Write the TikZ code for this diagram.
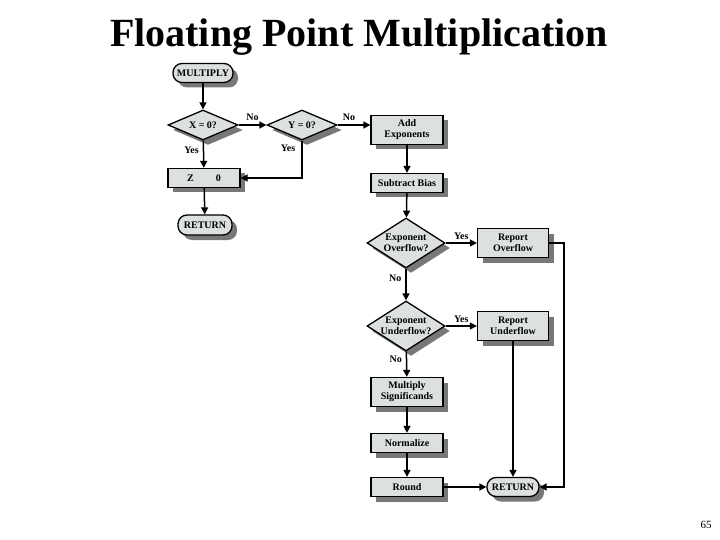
\documentclass[tikz,border=0pt]{standalone}
\usepackage{fontspec}
\setmainfont{Liberation Serif}
\usetikzlibrary{shapes.geometric,arrows.meta,shadows}
\definecolor{boxfill}{RGB}{220,224,224}
\definecolor{shade}{RGB}{120,120,120}
\begin{document}
\begin{tikzpicture}[x=1pt,y=-1pt,
  base/.style={draw,line width=1.3pt,fill=boxfill,
    font=\bfseries\fontsize{10}{11}\selectfont,align=center,inner sep=1pt,
    drop shadow={shadow xshift=5pt,shadow yshift=-5pt,fill=shade,opacity=1}},
  procbox/.style={base,rectangle,minimum width=72pt},
  termbox/.style={base,rectangle,rounded corners=9pt},
  decbox/.style={base,diamond},
  dtext/.style={font=\bfseries\fontsize{10}{11}\selectfont,align=center,inner sep=0pt},
  flow/.style={line width=1.5pt,-{Triangle[length=7pt,width=7pt]}},
  lbl/.style={font=\bfseries\fontsize{10}{11}\selectfont,inner sep=0pt}]
\useasboundingbox (0,0) rectangle (720,540);

\node[anchor=base,font=\bfseries\fontsize{40}{44}\selectfont] (title) at (359,47) {Floating Point Multiplication};
\node[font=\fontsize{11}{12}\selectfont] (pnum) at (706,525) {65};

% left column
\node[termbox,minimum width=60pt,minimum height=19pt] (mult) at (203,73) {MULTIPLY};
\node[decbox,minimum width=70pt,minimum height=30pt,
  label={[dtext]center:X = 0?}] (xz) at (203,125) {};
\node[decbox,minimum width=70pt,minimum height=30pt,
  label={[dtext]center:Y = 0?}] (yz) at (302,125) {};
\node[procbox,minimum height=19pt] (zero) at (204,178) {Z\hspace{2.2em}0};
\node[termbox,minimum width=54pt,minimum height=20pt] (ret1) at (205,225) {RETURN};

% main column
\node[procbox,minimum height=29pt] (add) at (407,130) {Add\\Exponents};
\node[procbox,minimum height=19pt] (sub) at (407,183) {Subtract Bias};
\node[decbox,minimum width=78pt,minimum height=50pt,
  label={[dtext]center:Exponent\\Overflow?}] (ovf) at (406,243) {};
\node[decbox,minimum width=78pt,minimum height=50pt,
  label={[dtext]center:Exponent\\Underflow?}] (unf) at (406,326) {};
\node[procbox,minimum height=29pt] (msig) at (407,392) {Multiply\\Significands};
\node[procbox,minimum height=19pt] (norm) at (407,443) {Normalize};
\node[procbox,minimum height=19pt] (rnd) at (407,487) {Round};

% right column
\node[procbox,minimum width=71pt,minimum height=29pt] (rovf) at (513,243) {Report\\Overflow};
\node[procbox,minimum width=71pt,minimum height=29pt] (runf) at (513,326) {Report\\Underflow};
\node[termbox,minimum width=52pt,minimum height=19pt] (ret2) at (513,487) {RETURN};
\coordinate (rc) at (564,243);

% connectors
\draw[flow] (mult) -- (xz);
\draw[flow] (xz) -- (yz) node[lbl,midway,above=4pt] {No};
\draw[flow] (yz) -- (add.west |- yz) node[lbl,pos=0.35,above=4pt] {No};
\draw[flow] (xz) -- (zero) node[lbl,pos=0.35,left=4pt] {Yes};
\draw[flow] (yz.south) |- (zero.east) node[lbl,pos=0.1,left=6pt] {Yes};
\draw[flow] (zero) -- (ret1);

\draw[flow] (add) -- (sub);
\draw[flow] (sub) -- (ovf);
\draw[flow] (ovf) -- (unf) node[lbl,pos=0.3,left=4pt] {No};
\draw[flow] (unf) -- (msig) node[lbl,pos=0.3,left=4pt] {No};
\draw[flow] (msig) -- (norm);
\draw[flow] (norm) -- (rnd);
\draw[flow] (rnd) -- (ret2);

\draw[flow] (ovf) -- (rovf) node[lbl,midway,above=3pt] {Yes};
\draw[flow] (unf) -- (runf) node[lbl,midway,above=3pt] {Yes};
\draw[flow] (rovf.east) -- (rc) |- (ret2.east);
\draw[flow] (runf) -- (ret2);
\end{tikzpicture}
\end{document}
